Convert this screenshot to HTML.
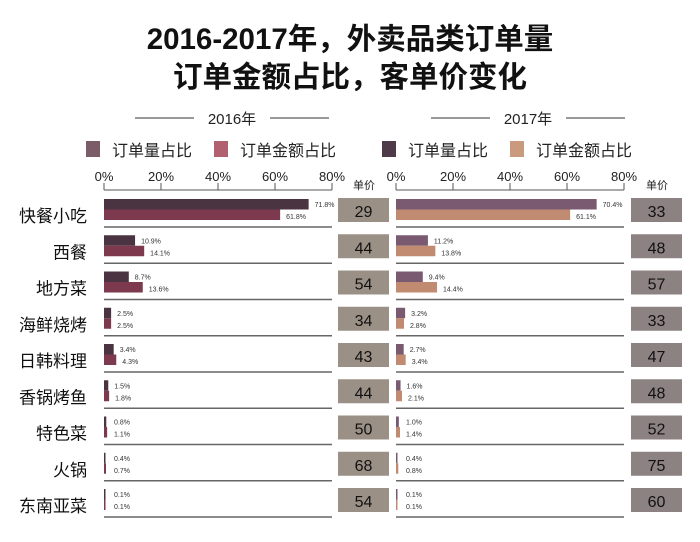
<!DOCTYPE html>
<html><head><meta charset="utf-8">
<style>
body{margin:0;background:#fff;}
svg text{font-family:"Liberation Sans","Noto Sans CJK SC",sans-serif;}
</style></head>
<body>
<svg width="700" height="537" viewBox="0 0 700 537" xmlns="http://www.w3.org/2000/svg">
<text x="350" y="49" text-anchor="middle" font-size="29.5" font-weight="bold" fill="#111">2016-2017年，外卖品类订单量</text>
<text x="350" y="87" text-anchor="middle" font-size="29.5" font-weight="bold" fill="#111">订单金额占比，客单价变化</text>
<g id="panels"></g>
</svg>
<script>
const categories=["快餐小吃","西餐","地方菜","海鲜烧烤","日韩料理","香锅烤鱼","特色菜","火锅","东南亚菜"];
const vol2016=[71.8,10.9,8.7,2.5,3.4,1.5,0.8,0.4,0.1];
const amt2016=[61.8,14.1,13.6,2.5,4.3,1.8,1.1,0.7,0.1];
const price2016=[29,44,54,34,43,44,50,68,54];
const vol2017=[70.4,11.2,9.4,3.2,2.7,1.6,1.0,0.4,0.1];
const amt2017=[61.1,13.8,14.4,2.8,3.4,2.1,1.4,0.8,0.1];
const price2017=[33,48,57,33,47,48,52,75,60];
const ticks=[0,20,40,60,80];

const NS="http://www.w3.org/2000/svg";
const root=document.getElementById('panels');
function el(tag,attrs,parent,text){const e=document.createElementNS(NS,tag);for(const k in attrs)e.setAttribute(k,attrs[k]);if(text!==undefined)e.textContent=text;(parent||root).appendChild(e);return e;}
function sepY(i){return 227+i*36.25;}

const panels=[
 {year:"2016年",x0:104,x1:332,vol:vol2016,amt:amt2016,price:price2016,cv:"#4b3442",ca:"#7d3a4e",lv:"#7a5d68",la:"#b0606e",box:"#9b9086",bx:338,cx:232},
 {year:"2017年",x0:396,x1:624,vol:vol2017,amt:amt2017,price:price2017,cv:"#7a5a70",ca:"#c08b70",lv:"#4e3a48",la:"#c99a7e",box:"#8c8282",bx:631,cx:528}
];
panels.forEach((p,pi)=>{
 const g=el('g',{});
 
 
 const sx=v=>p.x0+(p.x1-p.x0)*v/80;
 let t=el('text',{x:p.cx,y:124,'text-anchor':'middle','font-size':'15',fill:'#222'},g,p.year);
 
 
 el('line',{x1:p.cx-97,x2:p.cx-38,y1:118,y2:118,stroke:'#333','stroke-width':1},g);
 el('line',{x1:p.cx+38,x2:p.cx+97,y1:118,y2:118,stroke:'#333','stroke-width':1},g);
 const lx=p.cx-146;
 let r=el('rect',{x:lx,y:141,width:14,height:16,fill:p.lv},g);
 
 
 t=el('text',{x:lx+26,y:156,'font-size':'16',fill:'#222'},g,'订单量占比');
 
 
 r=el('rect',{x:lx+128,y:141,width:14,height:16,fill:p.la},g);
 
 
 t=el('text',{x:lx+154,y:156,'font-size':'16',fill:'#222'},g,'订单金额占比');
 
 
 el('line',{x1:p.x0,x2:p.x1,y1:190,y2:190,stroke:'#555','stroke-width':1},g);
 ticks.forEach(v=>{
  el('line',{x1:sx(v),x2:sx(v),y1:183,y2:190,stroke:'#555'},g);
  const tt=el('text',{x:sx(v),y:181,'text-anchor':'middle','font-size':'13',fill:'#222'},g,v+'%');
  
  
 });
 t=el('text',{x:p.bx+26,y:189,'text-anchor':'middle','font-size':'11',fill:'#222'},g,'单价');
 
 
 categories.forEach((c,i)=>{
  const s=sepY(i);
  if(pi===0){
   const ct=el('text',{x:87,y:s-5,'text-anchor':'end','font-size':'17',fill:'#111'},g,c);
   
   
  }
  let b=el('rect',{x:p.x0,y:s-28,width:Math.max(1.5,sx(p.vol[i])-p.x0),height:10.5,fill:p.cv},g);
  
  
  b=el('rect',{x:p.x0,y:s-17.5,width:Math.max(1.5,sx(p.amt[i])-p.x0),height:10.5,fill:p.ca},g);
  
  
  let lt=el('text',{x:Math.max(sx(p.vol[i]),p.x0+4)+6,y:s-20,'font-size':'7',fill:'#333'},g,p.vol[i].toFixed(1)+'%');
  
  
  lt=el('text',{x:Math.max(sx(p.amt[i]),p.x0+4)+6,y:s-8,'font-size':'7',fill:'#333'},g,p.amt[i].toFixed(1)+'%');
  
  
  el('line',{x1:p.x0,x2:p.x1,y1:s,y2:s,stroke:'#666','stroke-width':1.5},g);
  const bx=el('rect',{x:p.bx,y:s-29,width:51,height:24,fill:p.box},g);
  
  
  const pt=el('text',{x:p.bx+25.5,y:s-10,'text-anchor':'middle','font-size':'16',fill:'#111'},g,String(p.price[i]));
  
  
 });
});
</script>
</body></html>
